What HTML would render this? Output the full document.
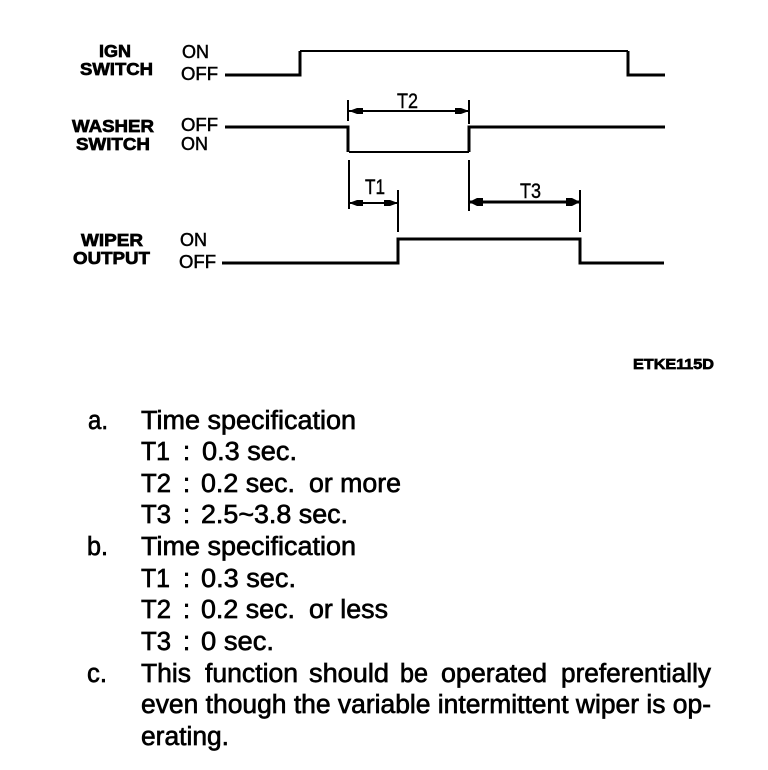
<!DOCTYPE html>
<html><head><meta charset="utf-8"><style>
html,body{margin:0;padding:0;background:#fff}
svg{display:block}
text{font-family:"Liberation Sans",sans-serif;fill:#000}
.b{font-size:25.5px;stroke:#000;stroke-width:.65px}
.l{font-size:18px;stroke:#000;stroke-width:.5px}
.t{font-size:21px;stroke:#000;stroke-width:.4px}
.h{font-size:17.5px;font-weight:bold;stroke:#000;stroke-width:.7px}
</style></head><body>
<svg width="768" height="770" viewBox="0 0 768 770" xmlns="http://www.w3.org/2000/svg">
<rect width="768" height="770" fill="#fff"/>
<g fill="none" stroke="#000" stroke-width="2" shape-rendering="crispEdges">
<path d="M300 51H628"/>
<path d="M349 111H469M349 203H398"/>
<path d="M349 152H469"/>
</g>
<g fill="none" stroke="#000" stroke-width="3" shape-rendering="crispEdges">
<path d="M225 75H300V51M628 51V75H665"/>
<path d="M225 127H348V152M469 152V127H665"/>
<path d="M222 263H398V239H580V263H664"/>
<path d="M469 202H580"/>
</g>
<g fill="none" stroke="#000" stroke-width="2" shape-rendering="crispEdges">
<path d="M348 100V121M469 100V124M349 160V209M469 160V211M398 190V232M580 190V232"/>
</g>
<g fill="#000">
<path d="M349 111l8-3h6v6h-6zM469 111l-8-3h-6v6h6z"/>
<path d="M349 203l8-3h6v6h-6zM398 203l-8-3h-6v6h6z"/>
<path d="M469 202l8-4h6v8h-6zM580 202l-8-4h-6v8h6z"/>
</g>
<text class="h" x="99" y="57" textLength="32" lengthAdjust="spacingAndGlyphs">IGN</text>
<text class="h" x="80" y="75" textLength="73" lengthAdjust="spacingAndGlyphs">SWITCH</text>
<text class="h" x="72" y="132" textLength="82" lengthAdjust="spacingAndGlyphs">WASHER</text>
<text class="h" x="76" y="150" textLength="74" lengthAdjust="spacingAndGlyphs">SWITCH</text>
<text class="h" x="81" y="246" textLength="62" lengthAdjust="spacingAndGlyphs">WIPER</text>
<text class="h" x="73" y="264" textLength="77" lengthAdjust="spacingAndGlyphs">OUTPUT</text>
<text class="l" x="182" y="58" textLength="27" lengthAdjust="spacingAndGlyphs">ON</text>
<text class="l" x="181" y="80" textLength="37" lengthAdjust="spacingAndGlyphs">OFF</text>
<text class="l" x="181" y="131" textLength="37" lengthAdjust="spacingAndGlyphs">OFF</text>
<text class="l" x="181" y="150" textLength="27" lengthAdjust="spacingAndGlyphs">ON</text>
<text class="l" x="180" y="246" textLength="27" lengthAdjust="spacingAndGlyphs">ON</text>
<text class="l" x="179" y="268" textLength="37" lengthAdjust="spacingAndGlyphs">OFF</text>
<text class="t" x="397" y="108" textLength="21" lengthAdjust="spacingAndGlyphs">T2</text>
<text class="t" x="365" y="194" textLength="20" lengthAdjust="spacingAndGlyphs">T1</text>
<text class="t" x="520" y="198" textLength="21" lengthAdjust="spacingAndGlyphs">T3</text>
<text class="h" style="font-size:15px" x="633" y="369" textLength="81" lengthAdjust="spacingAndGlyphs">ETKE115D</text>

<text class="b" x="88" y="429" textLength="20" lengthAdjust="spacingAndGlyphs">a.</text>
<text class="b" x="141" y="429" textLength="215" lengthAdjust="spacingAndGlyphs">Time specification</text>
<text class="b" x="141" y="460" textLength="29" lengthAdjust="spacingAndGlyphs">T1</text>
<text class="b" x="183" y="460">:</text>
<text class="b" x="202" y="460" textLength="95" lengthAdjust="spacingAndGlyphs">0.3 sec.</text>
<text class="b" x="141" y="492" textLength="30" lengthAdjust="spacingAndGlyphs">T2</text>
<text class="b" x="183" y="492">:</text>
<text class="b" x="201" y="492" textLength="94" lengthAdjust="spacingAndGlyphs">0.2 sec.</text>
<text class="b" x="309" y="492" textLength="92" lengthAdjust="spacingAndGlyphs">or more</text>
<text class="b" x="141" y="523" textLength="30" lengthAdjust="spacingAndGlyphs">T3</text>
<text class="b" x="183" y="523">:</text>
<text class="b" x="201" y="523" textLength="147" lengthAdjust="spacingAndGlyphs">2.5~3.8 sec.</text>
<text class="b" x="87" y="555" textLength="21" lengthAdjust="spacingAndGlyphs">b.</text>
<text class="b" x="141" y="555" textLength="215" lengthAdjust="spacingAndGlyphs">Time specification</text>
<text class="b" x="141" y="587" textLength="29" lengthAdjust="spacingAndGlyphs">T1</text>
<text class="b" x="183" y="587">:</text>
<text class="b" x="201" y="587" textLength="95" lengthAdjust="spacingAndGlyphs">0.3 sec.</text>
<text class="b" x="141" y="618" textLength="30" lengthAdjust="spacingAndGlyphs">T2</text>
<text class="b" x="183" y="618">:</text>
<text class="b" x="201" y="618" textLength="94" lengthAdjust="spacingAndGlyphs">0.2 sec.</text>
<text class="b" x="309" y="618" textLength="79" lengthAdjust="spacingAndGlyphs">or less</text>
<text class="b" x="141" y="650" textLength="30" lengthAdjust="spacingAndGlyphs">T3</text>
<text class="b" x="183" y="650">:</text>
<text class="b" x="201" y="650" textLength="73" lengthAdjust="spacingAndGlyphs">0 sec.</text>
<text class="b" x="87" y="682" textLength="20" lengthAdjust="spacingAndGlyphs">c.</text>
<text class="b" x="141" y="682" textLength="50" lengthAdjust="spacingAndGlyphs">This</text>
<text class="b" x="205" y="682" textLength="93" lengthAdjust="spacingAndGlyphs">function</text>
<text class="b" x="309" y="682" textLength="80" lengthAdjust="spacingAndGlyphs">should</text>
<text class="b" x="400" y="682" textLength="28" lengthAdjust="spacingAndGlyphs">be</text>
<text class="b" x="441" y="682" textLength="106" lengthAdjust="spacingAndGlyphs">operated</text>
<text class="b" x="561" y="682" textLength="150" lengthAdjust="spacingAndGlyphs">preferentially</text>
<text class="b" x="141" y="713" textLength="570" lengthAdjust="spacingAndGlyphs">even though the variable intermittent wiper is op-</text>
<text class="b" x="141" y="745" textLength="88" lengthAdjust="spacingAndGlyphs">erating.</text>
</svg>
</body></html>
